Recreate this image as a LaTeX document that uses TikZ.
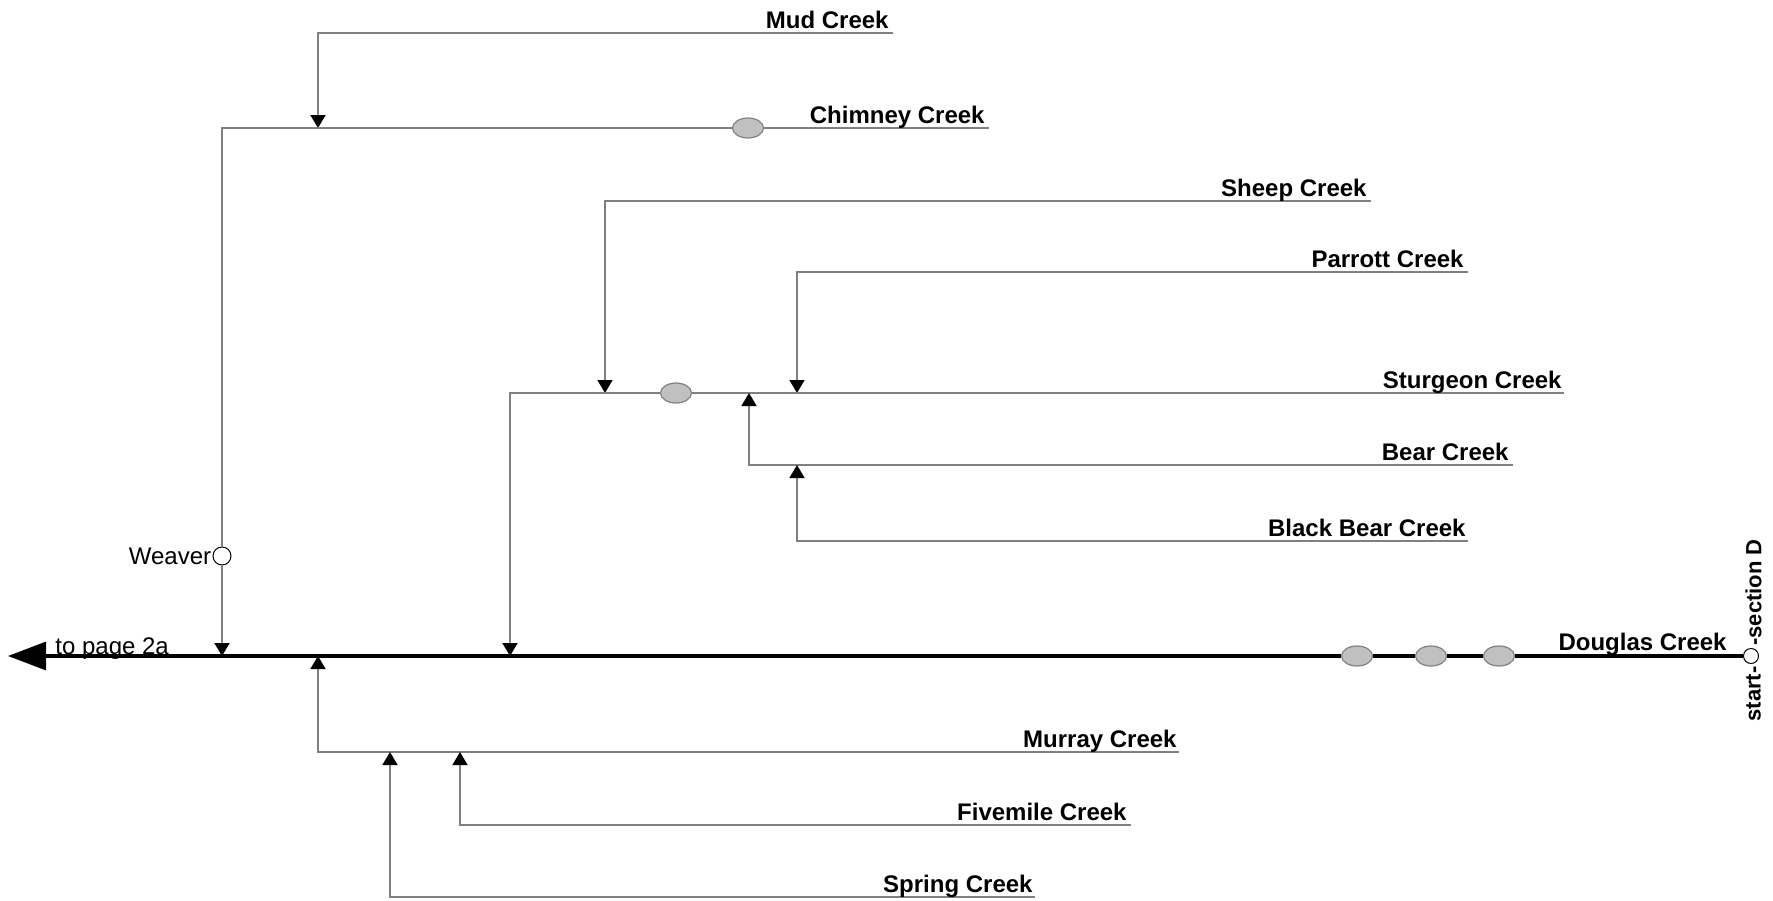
\documentclass[tikz,border=0pt]{standalone}
\usepackage{fontspec}
\setmainfont{Liberation Sans}
\usepackage{tikz}
\usetikzlibrary{shapes,arrows.meta}

\definecolor{linea}{RGB}{128,128,128}
\definecolor{relleno}{RGB}{192,192,192}

\begin{document}
\begin{tikzpicture}[x=0.5pt,y=-0.5pt]
    \tikzset{arroyo/.style = {draw=linea,line width=0.8pt}}
    \tikzset{flecha/.style = {arroyo,-{Triangle[length=6.5pt,width=7.5pt,color=black]}}}
    \tikzset{principal/.style = {draw=black,line width=1.6pt,-{Triangle[length=19pt,width=14pt]}}}
    \tikzset{Estacion/.style = {shape=ellipse,draw=linea,fill=relleno,line width=0.6pt,minimum width=15.5pt,minimum height=10pt,inner sep=0pt}}
    \tikzset{Punto/.style = {shape=circle,draw=black,fill=white,line width=0.5pt,inner sep=0pt}}
    \tikzset{rotulo/.style = {font=\fontsize{12}{14}\selectfont\bfseries,inner sep=0pt,anchor=base east}}
    \tikzset{texto/.style = {font=\fontsize{12}{14}\selectfont,inner sep=0pt}}

    \useasboundingbox (0,0) rectangle (1773,900);

    \coordinate (Principal) at (0,656);
    \coordinate (punta) at (8,656);
    \node[Punto,minimum size=7.5pt] (finD) at (1751,656) {};

    \coordinate (MudE) at (893,33);
    \coordinate (MudW) at (318,33);
    \coordinate (ChimneyE) at (989,128);
    \coordinate (ChimneyW) at (222,128);
    \coordinate (SheepE) at (1371,201);
    \coordinate (SheepW) at (605,201);
    \coordinate (ParrottE) at (1468,272);
    \coordinate (ParrottW) at (797,272);
    \coordinate (SturgeonE) at (1564,393);
    \coordinate (SturgeonW) at (510,393);
    \coordinate (BearE) at (1513,465);
    \coordinate (BearW) at (749,465);
    \coordinate (BlackBearE) at (1468,541);
    \coordinate (BlackBearW) at (797,541);
    \coordinate (MurrayE) at (1179,752);
    \coordinate (MurrayW) at (318,752);
    \coordinate (FivemileE) at (1131,825);
    \coordinate (FivemileW) at (460,825);
    \coordinate (SpringE) at (1035,897);
    \coordinate (SpringW) at (390,897);

    \node[Estacion] (estChimney) at (748,128) {};
    \node[Estacion] (estSturgeon) at (676,393) {};
    \node[Estacion] (est1) at (1357,656) {};
    \node[Estacion] (est2) at (1431,656) {};
    \node[Estacion] (est3) at (1499,656) {};
    \node[Punto,minimum size=9pt] (Weaver) at (222,556) {};

    \draw[principal] (finD) -- (est3) -- (est2) -- (est1) -- (punta);

    \draw[flecha] (MudE) -- (MudW) -- (MudW |- ChimneyW);
    \draw[flecha] (ChimneyE) -- (estChimney) -- (ChimneyW) -- (Weaver) -- (ChimneyW |- Principal);
    \draw[flecha] (SheepE) -- (SheepW) -- (SheepW |- SturgeonW);
    \draw[flecha] (ParrottE) -- (ParrottW) -- (ParrottW |- SturgeonW);
    \draw[flecha] (SturgeonE) -- (estSturgeon) -- (SturgeonW) -- (SturgeonW |- Principal);
    \draw[flecha] (BearE) -- (BearW) -- (BearW |- SturgeonW);
    \draw[flecha] (BlackBearE) -- (BlackBearW) -- (BlackBearW |- BearW);
    \draw[flecha] (MurrayE) -- (MurrayW) -- (MurrayW |- Principal);
    \draw[flecha] (FivemileE) -- (FivemileW) -- (FivemileW |- MurrayW);
    \draw[flecha] (SpringE) -- (SpringW) -- (SpringW |- MurrayW);

    \node[rotulo] (lblMud) at ([xshift=-2pt,yshift=2.5pt]MudE) {Mud Creek};
    \node[rotulo] (lblChimney) at ([xshift=-2pt,yshift=2.5pt]ChimneyE) {Chimney Creek};
    \node[rotulo] (lblSheep) at ([xshift=-2pt,yshift=2.5pt]SheepE) {Sheep Creek};
    \node[rotulo] (lblParrott) at ([xshift=-2pt,yshift=2.5pt]ParrottE) {Parrott Creek};
    \node[rotulo] (lblSturgeon) at ([xshift=-1pt,yshift=2.5pt]SturgeonE) {Sturgeon Creek};
    \node[rotulo] (lblBear) at ([xshift=-2pt,yshift=2.5pt]BearE) {Bear Creek};
    \node[rotulo] (lblBlackBear) at ([xshift=-1pt,yshift=2.5pt]BlackBearE) {Black Bear Creek};
    \node[rotulo] (lblDouglas) at ([xshift=-12pt,yshift=3pt]finD.center) {Douglas Creek};
    \node[rotulo] (lblMurray) at ([xshift=-1pt,yshift=2.5pt]MurrayE) {Murray Creek};
    \node[rotulo] (lblFivemile) at ([xshift=-2pt,yshift=2.5pt]FivemileE) {Fivemile Creek};
    \node[rotulo] (lblSpring) at ([xshift=-1pt,yshift=2.5pt]SpringE) {Spring Creek};

    \node[texto,anchor=east,inner sep=0.5pt] (lblWeaver) at (Weaver.west) {Weaver};
    \node[texto,anchor=base west] (lblPagina) at (55,654) {to page 2a};

    \node[rotulo,font=\fontsize{11}{13}\selectfont\bfseries,rotate=90,anchor=east,inner sep=1pt] (lblStart) at ([xshift=1.25pt]finD.south) {start-};
    \node[rotulo,font=\fontsize{11}{13}\selectfont\bfseries,rotate=90,anchor=west,inner sep=1pt] (lblSection) at ([xshift=1.25pt]finD.north) {-section D};

\end{tikzpicture}
\end{document}
